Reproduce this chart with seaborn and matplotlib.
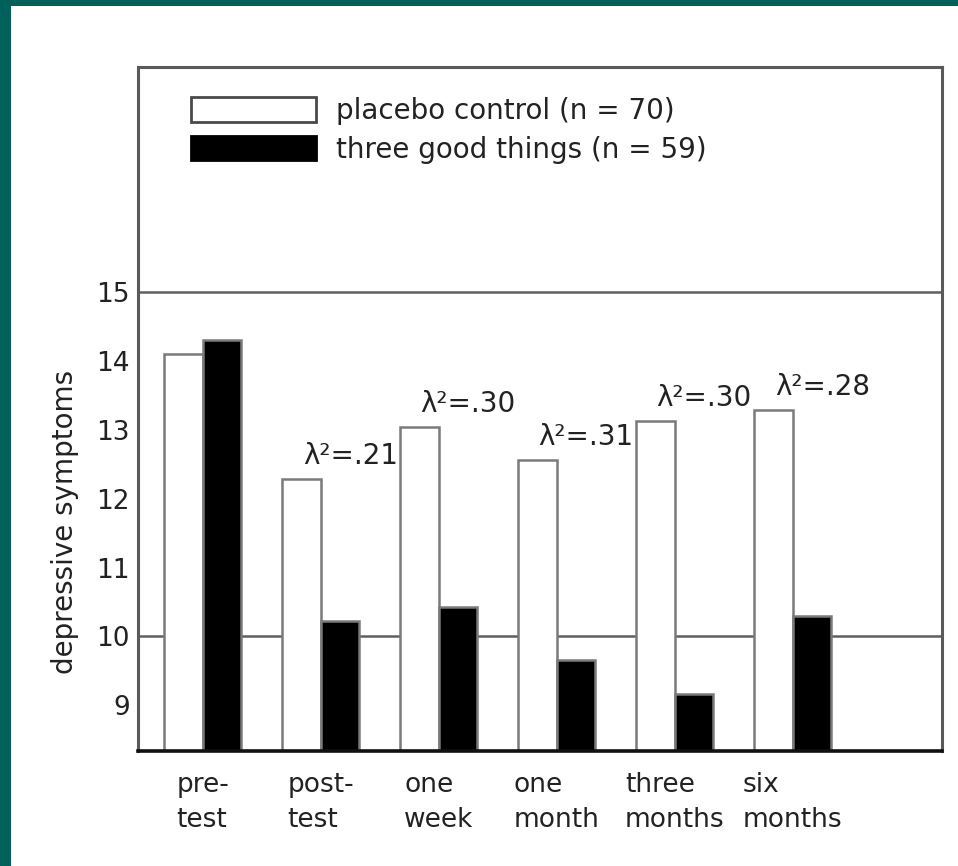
import matplotlib
matplotlib.use("Agg")
import matplotlib.pyplot as plt
import seaborn as sns
import pandas as pd
from matplotlib.patches import Patch, Rectangle

# ---- data ----
categories = ["pre-\ntest", "post-\ntest", "one\nweek", "one\nmonth", "three\nmonths", "six\nmonths"]
placebo = [14.10, 12.29, 13.04, 12.56, 13.13, 13.29]
three_good = [14.30, 10.22, 10.42, 9.66, 9.17, 10.30]
effect_labels = ["", "λ²=.21", "λ²=.30", "λ²=.31", "λ²=.30", "λ²=.28"]
group_names = ["placebo control (n = 70)", "three good things (n = 59)"]
yticks = [9, 10, 11, 12, 13, 14, 15]
ylabel = "depressive symptoms"

df = pd.DataFrame({
    "time": categories * 2,
    "score": placebo + three_good,
    "group": [group_names[0]] * len(categories) + [group_names[1]] * len(categories),
})

sns.set_theme(style="white")
plt.rcParams["font.family"] = ["DejaVu Sans"]
TXT = "#222222"

fig = plt.figure(figsize=(9.58, 8.66), dpi=100, facecolor="white")
W, H = 958, 866
# teal frame (top and left)
fig.patches.append(Rectangle((0, 1 - 6 / H), 1, 6 / H, transform=fig.transFigure,
                             facecolor="#00605a", edgecolor="none", zorder=10))
fig.patches.append(Rectangle((0, 0), 11 / W, 1, transform=fig.transFigure,
                             facecolor="#00605a", edgecolor="none", zorder=10))

ax = fig.add_axes([138 / W, 1 - 751 / H, (942 - 138) / W, (751 - 67) / H])

palette = {group_names[0]: "white", group_names[1]: "black"}
sns.barplot(data=df, x="time", y="score", hue="group", hue_order=group_names,
            order=categories, palette=palette, width=0.65, saturation=1,
            edgecolor="#7a7a7a", linewidth=1.8, legend=False, ax=ax, zorder=2)

ax.set_ylim(8.335, 18.27)
ax.set_xlim(-0.548, 6.265)

for yv in (10, 15):
    ax.axhline(yv, color="#606060", lw=1.8, zorder=1)

ax.set_yticks(yticks)
ax.set_yticklabels([str(t) for t in yticks], fontsize=19, color=TXT)
ax.tick_params(axis="y", length=0, pad=6)
ax.tick_params(axis="x", length=0, pad=15)
for lab in ax.get_xticklabels():
    lab.set_fontsize(19)
    lab.set_color(TXT)
    lab.set_multialignment("left")
    lab.set_linespacing(1.45)

ax.set_xlabel("")
ax.set_ylabel(ylabel, fontsize=20, color=TXT)
ax.yaxis.set_label_coords(-0.074, 0.335)

for side in ("top", "right", "left"):
    ax.spines[side].set_color("#5a5a5a")
    ax.spines[side].set_linewidth(2.2)
ax.spines["bottom"].set_color("#111111")
ax.spines["bottom"].set_linewidth(2.6)

# effect size labels
for i, (lab, v) in enumerate(zip(effect_labels, placebo)):
    if lab:
        ax.text(i + 0.25, v + 0.22, lab, ha="center", va="baseline",
                fontsize=20, color=TXT)

handles = [Patch(facecolor="white", edgecolor="#4a4a4a", linewidth=2),
           Patch(facecolor="black", edgecolor="black", linewidth=2)]
ax.legend(handles, group_names, loc="upper left",
          bbox_to_anchor=((191 - 138) / 804, 1 - (97 - 67) / 684),
          frameon=False, fontsize=20, handlelength=4.5, handleheight=1.0,
          handletextpad=0.72, labelspacing=0.38, borderpad=0, borderaxespad=0,
          labelcolor=TXT)

fig.savefig("out.png", dpi=100, facecolor="white")
